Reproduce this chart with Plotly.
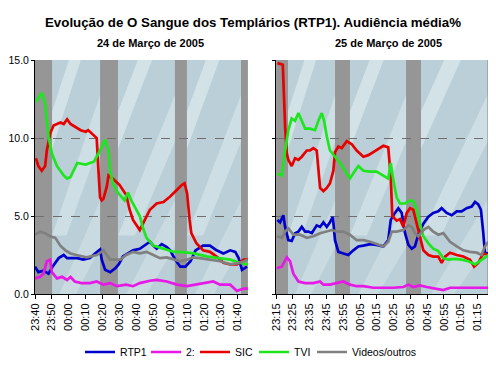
import plotly.graph_objects as go

# ---------------- data (minutes after first tick, audience %) ----------------
left_tick_labels = ["23:40", "23:50", "00:00", "00:10", "00:20", "00:30", "00:40",
                    "00:50", "01:00", "01:10", "01:20", "01:30", "01:40"]
right_tick_labels = ["23:15", "23:25", "23:35", "23:45", "23:55", "00:05", "00:15",
                     "00:25", "00:35", "00:45", "00:55", "01:05", "01:15"]
tick_minutes = [0, 10, 20, 30, 40, 50, 60, 70, 80, 90, 100, 110, 120]

# 24 de Março
rtp1_24_t = [0, 2, 5, 8, 11, 14, 17, 19, 22, 25, 28.5, 32.5, 35.5, 38.5, 39.5, 41.5, 44.5, 47.5,
             49.5, 52, 55, 58, 62, 66, 68, 70, 72, 75, 78, 80, 83, 86, 89, 92, 95, 99.5, 103.5,
             107.5, 111.5, 115.5, 118.5, 120.5, 122.5, 125.5]
rtp1_24_v = [1.75, 1.4, 1.5, 1.3, 1.85, 2.3, 2.5, 2.3, 2.3, 2.3, 2.2, 2.3, 2.6, 2.85, 2.2, 1.55,
             1.4, 1.65, 1.9, 2.4, 2.6, 2.8, 2.9, 3.2, 3.35, 3.1, 2.9, 3.2, 3.0, 2.8, 2.2, 1.75,
             1.75, 2.1, 2.8, 3.1, 3.1, 2.8, 2.6, 2.8, 2.7, 2.3, 1.55, 1.75]

dois_24_t = [0, 3, 5, 7, 9, 10, 13, 16, 19, 21, 23.5, 27.5, 32.5, 36.5, 40.5, 44.5, 48.5, 54,
             58, 62, 68, 72, 78, 84, 90, 96, 101.5, 105.5, 109.5, 115.5, 119.5, 123.5, 126]
dois_24_v = [1.0, 1.1, 1.3, 2.1, 2.2, 1.4, 1.0, 1.1, 0.9, 1.1, 0.8, 0.7, 0.7, 0.8, 0.6, 0.7,
             0.5, 0.6, 0.5, 0.7, 0.85, 0.9, 0.8, 0.6, 0.5, 0.6, 0.7, 0.8, 0.6, 0.6, 0.2, 0.35, 0.35]

sic_24_t = [0.5, 2, 4, 6, 7, 9, 11, 15, 17, 19, 21, 24, 27, 30, 31.5, 34.5, 36.5, 37.5, 38.5,
            39.5, 40.5, 42.5, 43.5, 46, 50, 54, 56, 58, 60, 62, 65, 68, 72, 76, 80, 84, 87,
            88.5, 90, 91.5, 92.5, 95.5, 99.5, 103.5, 107.5, 111.5, 115.5, 119.5, 123.5, 126]
sic_24_v = [8.7, 8.2, 7.9, 8.2, 9.2, 10.3, 10.8, 11.0, 10.9, 11.2, 10.9, 10.7, 10.5, 10.4, 10.5,
            10.2, 10.0, 8.0, 6.2, 6.0, 6.1, 6.9, 7.6, 7.4, 7.0, 6.35, 5.4, 4.75, 4.4, 4.1, 4.75,
            5.4, 5.8, 5.9, 6.25, 6.7, 7.0, 7.1, 6.45, 4.75, 3.9, 3.25, 2.8, 2.7, 2.4, 2.0, 1.9,
            1.9, 2.2, 2.2]

tvi_24_t = [0.5, 4, 6, 8, 10, 13, 17, 19, 21, 25, 30, 35, 38.5, 41.5, 43.5, 44.5, 46, 49, 53,
            55, 57, 60, 62, 64, 66, 70, 75.5, 82, 86, 94, 102, 107.5, 115.5, 121, 126]
tvi_24_v = [12.3, 12.9, 12.2, 10.1, 9.0, 8.2, 7.6, 7.4, 7.5, 8.4, 8.3, 8.5, 9.2, 9.9, 9.2, 7.9,
            7.1, 6.5, 6.0, 6.5, 6.0, 5.4, 5.0, 4.2, 3.6, 3.1, 2.9, 2.7, 2.7, 2.6, 2.4, 2.3, 2.2,
            2.0, 1.9]

outros_24_t = [0, 3, 6, 9, 12, 15, 18, 21, 24.5, 30.5, 36.5, 40.5, 44.5, 50.5, 54, 58, 62, 66,
               70, 74, 78, 82, 86, 90, 93.5, 97.5, 103.5, 109.5, 115.5, 121.5, 126]
outros_24_v = [3.8, 4.0, 3.9, 3.7, 3.6, 3.1, 2.8, 2.6, 2.5, 2.35, 2.5, 2.8, 2.2, 2.2, 2.5, 2.7,
               2.6, 2.7, 2.5, 2.3, 2.35, 2.2, 2.1, 2.2, 2.35, 2.3, 2.2, 2.1, 1.9, 2.0, 2.2]

# 25 de Março
rtp1_25_t = [0.8, 2.4, 4.3, 5.4, 7.3, 9.3, 11.3, 13.3, 15.3, 17.3, 19.2, 21.3, 24.2, 26.2, 28.2,
             30.2, 32.1, 33.8, 35.1, 37.1, 40.1, 43, 46, 49, 52, 56, 59.9, 63.9, 66.8, 68.3,
             70.8, 72.8, 74.8, 76.8, 78.8, 80.8, 82.7, 84.7, 87.7, 90.7, 93.6, 96.6, 98.6,
             101.6, 104.6, 107.6, 110.5, 113.5, 116.5, 118.5, 120.4, 122, 123.4, 124.4, 126.4]
rtp1_25_v = [4.75, 4.6, 5.05, 4.3, 3.45, 3.4, 3.9, 4.0, 4.3, 4.0, 4.0, 3.9, 4.4, 4.3, 4.6, 4.3,
             4.6, 4.95, 3.45, 2.7, 2.6, 2.5, 2.8, 3.05, 3.1, 3.2, 3.15, 3.05, 3.45, 4.75, 5.2,
             5.5, 5.2, 3.9, 3.15, 2.9, 3.05, 3.8, 4.5, 4.95, 5.2, 5.3, 5.5, 5.2, 5.05, 5.3, 5.3,
             5.5, 5.6, 5.9, 5.75, 5.4, 3.9, 2.6, 2.6]

dois_25_t = [0.4, 3.4, 6.4, 8.3, 10.3, 13.3, 17.3, 22.2, 26.2, 28.2, 32.1, 36.1, 40.1, 44, 48,
             52, 57.9, 63.9, 69.8, 75.8, 78.8, 81.7, 85.7, 89.7, 95.7, 99.6, 103.6, 111.5,
             119.5, 126.4]
dois_25_v = [1.65, 1.75, 2.35, 2.1, 1.3, 0.8, 0.7, 0.7, 0.8, 0.6, 0.6, 0.7, 0.8, 0.6, 0.5, 0.5,
             0.4, 0.4, 0.4, 0.45, 0.6, 0.45, 0.55, 0.45, 0.35, 0.25, 0.4, 0.4, 0.4, 0.4]

sic_25_t = [0.8, 4, 5.4, 6.4, 7.3, 9.3, 11.3, 13.3, 15.3, 18.3, 20.2, 22.2, 24.2, 25.2, 26.2,
            28.2, 30.2, 32.1, 34.1, 35.1, 37.1, 39.1, 42.1, 45.1, 48, 52, 54.9, 57.9, 60.9,
            63.9, 66.8, 68.3, 69.2, 71.8, 73.8, 75.8, 77.8, 79.8, 81.7, 83.7, 85.7, 87.7, 90.7,
            93.6, 96.6, 98.6, 100.6, 103.6, 107.6, 111.5, 115.5, 117.9, 120.4, 123.4, 126.4]
sic_25_v = [14.8, 14.7, 10.7, 9.0, 8.6, 8.2, 8.7, 8.6, 8.8, 9.2, 9.2, 9.35, 9.2, 7.7, 6.8, 6.6,
            6.8, 7.1, 7.9, 9.1, 9.45, 9.35, 9.8, 9.6, 9.2, 8.8, 8.9, 9.1, 9.3, 9.5, 9.4, 7.5,
            5.0, 4.7, 4.8, 4.3, 5.2, 5.5, 5.4, 4.5, 3.7, 2.8, 2.5, 2.4, 2.4, 2.0, 2.4, 2.65, 2.5,
            2.4, 2.2, 1.75, 2.0, 2.6, 2.5]

tvi_25_t = [0.8, 3.4, 5.4, 7.3, 9.3, 11.3, 13.3, 15.3, 17.3, 20.2, 23.2, 25.2, 27.2, 28.6, 30.2,
            32.1, 35.1, 38.1, 41.1, 44, 47, 49, 52, 56, 59.9, 63.9, 66.8, 68.3, 69.8, 71.8,
            73.8, 76.8, 79.8, 81.7, 83.7, 85.7, 87.7, 90.7, 93.6, 96.6, 99.6, 102.6, 106.5,
            110.5, 114.5, 118.5, 122.4, 125.4, 126.4]
tvi_25_v = [7.7, 7.6, 9.2, 10.5, 11.25, 11.1, 11.6, 11.15, 10.6, 10.6, 10.5, 11.1, 11.6, 11.1,
            10.1, 9.2, 8.8, 8.4, 7.9, 7.4, 7.9, 8.2, 7.9, 7.85, 7.85, 7.6, 7.4, 8.4, 7.3, 6.2,
            5.8, 5.8, 6.0, 5.95, 5.4, 4.5, 3.7, 3.25, 2.9, 2.75, 2.3, 2.2, 2.25, 2.2, 2.1, 1.9,
            2.2, 2.4, 2.5]

outros_25_t = [0.4, 3.4, 5.4, 7.3, 10.3, 14.3, 18.3, 22.2, 26.2, 30.2, 33.2, 36.1, 40.1, 44,
               48, 52, 56, 59.9, 63.9, 66.8, 68.9, 71.8, 75.8, 78.8, 80.8, 82.7, 84.7, 87.7,
               90.7, 93.6, 96.6, 99.6, 103.6, 107.6, 111.5, 115.5, 119.5, 122.4, 124.4, 126.4]
outros_25_v = [3.7, 3.6, 4.0, 4.2, 3.8, 3.8, 3.6, 3.7, 3.9, 4.0, 4.1, 4.0, 4.0, 3.8, 3.45, 3.45,
               3.35, 3.2, 3.05, 3.35, 4.0, 4.0, 4.1, 4.4, 4.3, 3.9, 3.7, 4.1, 4.3, 4.0, 3.8, 3.9,
               3.35, 3.05, 2.8, 2.7, 2.65, 2.5, 3.05, 3.35]

series_names = ["RTP1", "2:", "SIC", "TVI", "Videos/outros"]
series_colors = ["#0000cc", "#e619e6", "#e60000", "#1ee61e", "#808080"]

left_data = [(rtp1_24_t, rtp1_24_v), (dois_24_t, dois_24_v), (sic_24_t, sic_24_v),
             (tvi_24_t, tvi_24_v), (outros_24_t, outros_24_v)]
right_data = [(rtp1_25_t, rtp1_25_v), (dois_25_t, dois_25_v), (sic_25_t, sic_25_v),
              (tvi_25_t, tvi_25_v), (outros_25_t, outros_25_v)]

# light image blocks (minutes) of the background picture
left_blocks = [(10.1, 38.5), (49.1, 82.8), (89.9, 121.9)]
right_blocks = [(7.1, 35.1), (44.0, 77.4), (86.3, 125.8)]

# ---------------- figure ----------------
fig = go.Figure()
legend_ids = ["legend", "legend2", "legend3", "legend4", "legend5"]

for i, (name, color) in enumerate(zip(series_names, series_colors)):
    t, v = left_data[i]
    fig.add_trace(go.Scatter(x=t, y=v, mode="lines", name=name, legend=legend_ids[i],
                             line=dict(color=color, width=2.7), legendgroup=name,
                             xaxis="x", yaxis="y"))
for i, (name, color) in enumerate(zip(series_names, series_colors)):
    t, v = right_data[i]
    fig.add_trace(go.Scatter(x=t, y=v, mode="lines", name=name, showlegend=False,
                             line=dict(color=color, width=2.7), legendgroup=name,
                             xaxis="x2", yaxis="y2"))

shapes = []
light = "rgb(186,207,215)"
for xref, yref, blocks in (("x", "y domain", left_blocks), ("x2", "y2 domain", right_blocks)):
    for a, b in blocks:
        shapes.append(dict(type="rect", xref=xref, yref=yref, x0=a, x1=b, y0=0, y1=1,
                           fillcolor=light, line=dict(width=0), layer="below"))
        w = b - a
        # diagonal light streaks of the picture
        shapes.append(dict(type="path", xref=xref, yref=yref, layer="below",
                           path=f"M {a},0.78 L {a + w*0.35},1 L {a + w*0.6},1 L {a},0.62 Z",
                           fillcolor="rgba(235,245,248,0.5)", line=dict(width=0)))
        shapes.append(dict(type="path", xref=xref, yref=yref, layer="below",
                           path=f"M {a},0.25 L {b},0.85 L {b},0.65 L {a + w*0.3},0.25 Z",
                           fillcolor="rgba(235,245,248,0.4)", line=dict(width=0)))
        shapes.append(dict(type="path", xref=xref, yref=yref, layer="below",
                           path=f"M {a + w*0.15},0 L {b},0.4 L {b},0.2 L {a + w*0.5},0 Z",
                           fillcolor="rgba(235,245,248,0.3)", line=dict(width=0)))

font_family = "Liberation Sans, Arial, sans-serif"
xcommon = dict(tickmode="array", tickvals=tick_minutes, tickangle=-90, ticks="outside",
               ticklen=4, tickcolor="black", showline=True, linecolor="black", linewidth=1,
               showgrid=False, zeroline=False, automargin=False,
               tickfont=dict(size=11, color="black"))
ycommon = dict(range=[0, 15], tickvals=[0, 5, 10, 15], tickformat=".1f", ticks="outside",
               ticklen=3, tickcolor="black", showline=True, linecolor="black", linewidth=1,
               showgrid=True, gridcolor="#6e6e6e", griddash="dash", gridwidth=1,
               zeroline=False, automargin=False, tickfont=dict(size=10.5, color="black"))

# one small legend per entry so the entries sit close together like the original
legend_left_px = [80, 146, 195, 254, 312]
legends = {}
for lid, px in zip(legend_ids, legend_left_px):
    legends[lid] = dict(x=(px - 35) / 454, xanchor="left", y=-(352 - 294) / 234,
                        yanchor="middle", font=dict(size=10.5, color="black"),
                        itemwidth=30, bgcolor="rgba(0,0,0,0)", borderwidth=0)

# the page body adds an 8 px offset, so the figure is 8 px smaller than the window
W, H = 488, 367
fig.update_layout(
    width=W, height=H,
    margin=dict(l=27, r=7, t=52, b=81, autoexpand=False),
    paper_bgcolor="white", plot_bgcolor="rgb(150,150,150)",
    font=dict(family=font_family, color="black"),
    shapes=shapes,
    xaxis=dict(domain=[0, 0.469], range=[0, 126], ticktext=left_tick_labels, **xcommon),
    xaxis2=dict(domain=[0.531, 1], range=[0, 126.8], ticktext=right_tick_labels,
                anchor="y2", **xcommon),
    yaxis=dict(domain=[0, 1], anchor="x", **ycommon),
    yaxis2=dict(domain=[0, 1], anchor="x2", showticklabels=False, **ycommon),
    title=dict(text="<b>Evolução de O Sangue dos Templários (RTP1). Audiência média%</b>",
               x=(253 - 8) / W, xanchor="center", y=1 - 14 / H, yanchor="middle",
               font=dict(size=13.3, family=font_family, color="black")),
    annotations=[
        dict(text="<b>24 de Março de 2005</b>", xref="paper", yref="paper",
             x=(150 - 35) / 454, y=1 + (60 - 43) / 234, showarrow=False,
             font=dict(size=11, color="black"), xanchor="center", yanchor="middle"),
        dict(text="<b>25 de Março de 2005</b>", xref="paper", yref="paper",
             x=(388 - 35) / 454, y=1 + (60 - 43) / 234, showarrow=False,
             font=dict(size=11, color="black"), xanchor="center", yanchor="middle"),
    ],
    **legends,
)

fig.write_html("out.html")
